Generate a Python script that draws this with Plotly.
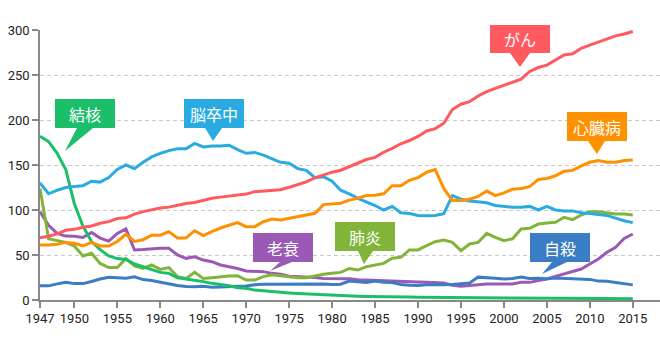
import plotly.graph_objects as go

years = list(range(1947, 2017))

cancer = [69.0, 70.8, 73.5, 77.4, 78.5, 80.8, 82.2, 85.3, 87.1, 90.5,
          91.3, 95.5, 98.2, 100.4, 102.3, 103.2, 105.5, 107.2, 108.4, 110.8,
          113.0, 114.3, 115.6, 116.3, 117.7, 120.4, 121.2, 122.2, 122.6, 125.3,
          128.4, 131.3, 135.7, 139.1, 142.0, 144.2, 148.3, 152.5, 156.1, 158.5,
          164.2, 168.4, 173.6, 177.2, 181.7, 187.8, 190.4, 196.4, 211.6, 217.5,
          220.4, 226.7, 231.6, 235.2, 238.8, 241.7, 245.4, 253.9, 258.3, 261.0,
          266.9, 272.3, 273.5, 279.7, 283.2, 286.6, 290.3, 293.5, 295.5, 298.3]

heart = [61, 61, 62, 64, 63, 60, 64, 60, 60, 65,
         73, 65, 67, 72, 72, 76, 69, 69, 77, 71.5,
         76, 80, 83, 86, 81.5, 81.5, 87, 90, 89, 90.7,
         92.6, 94.4, 96.3, 106, 107, 107.5, 111, 113, 116, 116.5,
         118, 127, 127, 133, 136, 142, 145, 124, 110.5, 110.5,
         112, 115, 121, 116, 119, 123, 124, 126, 134, 135,
         138, 143, 144, 149, 153, 155, 153, 153, 155, 155.6]

stroke = [130, 118, 122, 125, 126, 127, 132, 131, 136, 145,
          150, 146, 153, 159, 163, 166, 168, 168, 174, 170,
          171, 171, 172, 167, 163, 164, 161, 157, 153, 152,
          146, 144, 136, 137, 132, 122, 118, 113, 109, 105,
          100, 104, 97, 96, 94, 93.5, 94, 96, 116, 112,
          110, 109, 108, 105, 104, 103, 103, 104, 100, 104,
          100, 99, 99, 97, 96, 95, 94, 91, 88, 86]

pneumonia = [124, 68, 66, 64, 60, 49, 52, 40.6, 36, 36,
             46, 38, 35, 39, 34, 36, 26, 24, 30.7, 24,
             24.8, 26, 26.7, 27, 22.2, 22.2, 26, 28, 27, 26,
             24.8, 24.8, 27, 28.5, 29.6, 30.7, 35, 33.3, 37, 38.9,
             40.7, 46.5, 47.4, 55.6, 55.6, 60.4, 64.8, 66.7, 64, 54.8,
             62.2, 64, 74, 69.6, 66, 68, 78.9, 79.6, 84.4, 85.6,
             86.3, 91.9, 89.3, 94.4, 98, 98, 96.7, 95.6, 95.6, 94.4]

senility = [98, 83, 74, 71, 70.7, 69.5, 75, 68.8, 65.4, 74,
            79, 55.6, 56, 57, 57.4, 57.4, 50, 46.3, 48, 44.4,
            42.6, 38.9, 37, 35, 32.2, 32.2, 31.5, 29.6, 28.5, 26.5,
            26, 26, 25, 24, 24, 24, 23.5, 22.5, 22.2, 22.2,
            22, 21.5, 21, 20.4, 20, 19.6, 19.2, 18.9, 16.5, 15.2,
            16, 17, 17.8, 17.8, 17.8, 17.8, 19.6, 19.6, 21.5, 23.3,
            26.3, 28.9, 31.5, 34.4, 40, 45.6, 53, 58.5, 68.5, 73.3]

suicide = [15.7, 15.7, 17.9, 19.6, 18.2, 18.2, 20.6, 23.4, 25.2, 24.5,
           24.3, 25.7, 22.7, 21.6, 19.6, 17.5, 16.1, 15.1, 14.7, 15.2,
           14.2, 14.5, 14.5, 15.3, 15.6, 17.0, 17.4, 17.5, 18.0, 17.6,
           17.9, 17.6, 18.0, 17.7, 17.1, 17.5, 21.0, 20.4, 19.4, 21.2,
           19.6, 19.4, 17.3, 16.4, 16.1, 16.9, 16.6, 16.9, 17.2, 17.8,
           18.8, 25.4, 25.0, 24.1, 23.3, 23.8, 25.5, 24.0, 24.2, 23.7,
           24.4, 24.0, 24.4, 23.4, 22.9, 21.0, 20.7, 19.5, 18.5, 16.8]

tuberculosis = [182, 176, 163, 145, 107, 82, 65, 56, 49, 46,
                45, 40, 37, 34, 30.7, 29.6, 24.8, 23.3, 22.2, 20.4,
                18.5, 17.4, 15.9, 13.7, 13, 11, 10, 9.3, 8.5, 7.8,
                7.2, 6.7, 6.2, 5.6, 5.2, 4.8, 4.6, 4.3, 4.0, 4.0,
                3.7, 3.5, 3.3, 3.2, 3.0, 2.9, 2.8, 2.7, 2.6, 2.6,
                2.4, 2.3, 2.3, 2.1, 2.1, 2.0, 1.9, 1.9, 1.9, 1.8,
                1.8, 1.7, 1.7, 1.8, 1.7, 1.7, 1.7, 1.6, 1.5, 1.5]

tick_vals = [1947, 1951, 1956, 1961, 1966, 1971, 1976, 1981, 1986, 1991,
             1996, 2001, 2006, 2011, 2016]
tick_labels = ["1947", "1950", "1955", "1960", "1965", "1970", "1975", "1980",
               "1985", "1990", "1995", "2000", "2005", "2010", "2015"]

series = [
    ("老衰", senility, "#9b59b6"),
    ("自殺", suicide, "#3b7dc4"),
    ("肺炎", pneumonia, "#80b53a"),
    ("結核", tuberculosis, "#1bbf6a"),
    ("脳卒中", stroke, "#29abe2"),
    ("心臓病", heart, "#ff9100"),
    ("がん", cancer, "#ff5a5f"),
]

W, H = 660, 344
ML, MR, MT, MB = 40, 0, 30, 44
PW, PH = W - ML - MR, H - MT - MB

fig = go.Figure()
for name, vals, col in series:
    fig.add_trace(go.Scatter(x=years, y=vals, mode="lines", name=name,
                             line=dict(color=col, width=3), hoverinfo="x+y+name"))

def px(x):
    return (x - ML) / PW

def py(y):
    return (H - MB - y) / PH

# callouts: label, colour, box (x0, y0, x1, y1) in px, pointer triangle in px
callouts = [
    ("がん", "#ff5a5f", (490, 25, 550, 53), [(510, 53), (530, 53), (520, 67)]),
    ("心臓病", "#ff9100", (567, 112, 627, 141), [(588, 141), (605, 141), (597, 154)]),
    ("結核", "#1bbf6a", (55, 99, 115, 128), [(77, 128), (93, 128), (65, 151)]),
    ("脳卒中", "#29abe2", (184, 99, 244, 128), [(205, 128), (222, 128), (213, 141)]),
    ("老衰", "#9b59b6", (253, 233, 313, 262), [(280, 262), (292, 262), (270, 271)]),
    ("肺炎", "#80b53a", (335, 222, 395, 251), [(358, 251), (373, 251), (364, 264)]),
    ("自殺", "#3b7dc4", (530, 233, 590, 262), [(552, 262), (567, 262), (542, 274)]),
]

shapes = []
annotations = []
for label, col, (x0, y0, x1, y1), tri in callouts:
    shapes.append(dict(type="rect", xref="paper", yref="paper",
                       x0=px(x0), x1=px(x1), y0=py(y1), y1=py(y0),
                       fillcolor=col, line=dict(width=0), layer="above"))
    path = "M {} {} L {} {} L {} {} Z".format(px(tri[0][0]), py(tri[0][1]),
                                              px(tri[1][0]), py(tri[1][1]),
                                              px(tri[2][0]), py(tri[2][1]))
    shapes.append(dict(type="path", xref="paper", yref="paper", path=path,
                       fillcolor=col, line=dict(width=0), layer="above"))
    annotations.append(dict(xref="paper", yref="paper",
                            x=px((x0 + x1) / 2), y=py((y0 + y1) / 2),
                            text=label, showarrow=False,
                            font=dict(family="Noto Sans CJK JP", size=16, color="white"),
                            xanchor="center", yanchor="middle"))

fig.update_layout(
    width=W, height=H,
    margin=dict(l=ML, r=MR, t=MT, b=MB),
    paper_bgcolor="white", plot_bgcolor="white",
    showlegend=False,
    shapes=shapes, annotations=annotations,
    font=dict(family="Roboto", size=13, color="#222222"),
)
fig.update_xaxes(range=[1947, 1947 + PW / 8.591], tickvals=tick_vals, ticktext=tick_labels,
                 showgrid=False, zeroline=False, showline=True, linecolor="#888888",
                 linewidth=1.5, ticks="outside", ticklen=6, tickcolor="#888888",
                 tickwidth=1.5, tickfont=dict(family="Roboto", size=13, color="#222222"))
fig.update_yaxes(range=[0, 300], tickvals=[0, 50, 100, 150, 200, 250, 300],
                 showgrid=True, gridcolor="#c8c8c8", griddash="4px,3px", gridwidth=1,
                 zeroline=False, showline=True, linecolor="#888888", linewidth=1.5,
                 ticks="outside", ticklen=6, tickcolor="#888888", tickwidth=1.5,
                 tickfont=dict(family="Roboto", size=13, color="#222222"))

fig.write_html("out.html")
